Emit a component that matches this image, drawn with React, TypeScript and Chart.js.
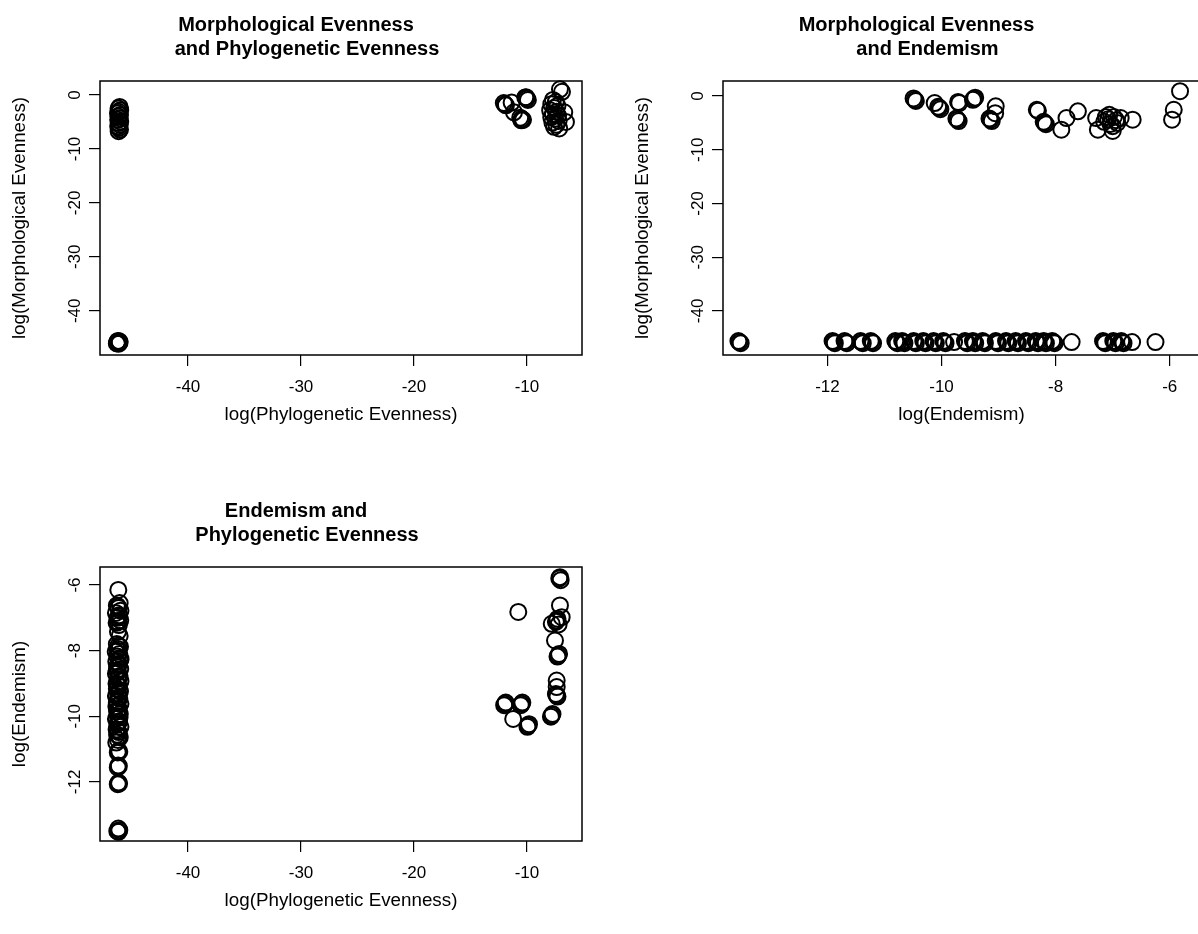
import React, { useEffect, useRef } from "react";
import { Chart, registerables } from "chart.js";

Chart.register(...registerables);

// ---------- Panel 1: log(Phylogenetic Evenness) vs log(Morphological Evenness)
const morphVsPhylo: [number, number][] = [
  // sites at the phylogenetic-evenness floor
  [-46.05, -2.2], [-46.15, -2.5], [-46.00, -2.8], [-46.12, -3.1], [-46.20, -3.4],
  [-46.02, -3.7], [-46.15, -4.0], [-46.08, -4.3], [-46.18, -4.6], [-46.00, -4.9],
  [-46.12, -5.2], [-46.05, -5.5], [-46.18, -5.8], [-46.10, -6.1], [-46.02, -6.4], [-46.14, -6.7],
  [-46.20, -45.6], [-46.05, -45.85], [-46.30, -46.05], [-46.12, -46.1], [-46.25, -45.7],
  [-46.08, -45.65], [-46.28, -45.95],
  // upper-right group
  [-11.95, -1.72], [-12.05, -1.5], [-11.86, -1.9], [-11.36, -1.4], [-11.15, -3.2],
  [-10.03, -0.68], [-10.15, -0.45], [-9.92, -0.9], [-10.08, -0.4],
  [-10.47, -4.4], [-10.60, -4.2], [-10.35, -4.6], [-10.50, -4.7],
  [-7.08, 1.06], [-6.90, 0.6], [-6.70, -3.2], [-6.55, -5.0],
  [-7.70, -0.9], [-7.45, -1.3], [-7.85, -1.7], [-7.30, -2.0], [-7.60, -2.4], [-7.95, -2.8],
  [-7.40, -3.1], [-7.70, -3.5], [-7.25, -3.8], [-7.85, -4.1], [-7.50, -4.4], [-7.20, -4.8],
  [-7.75, -5.1], [-7.40, -5.5], [-7.60, -5.9], [-7.15, -6.2],
];

// ---------- Panel 2: log(Endemism) vs log(Morphological Evenness)
const morphVsEndemism: [number, number][] = [
  [-10.47, -0.69], [-10.49, -0.45], [-10.45, -0.9], [-10.12, -1.3],
  [-10.04, -2.2], [-10.02, -2.45], [-10.06, -2.0], [-9.69, -1.3], [-9.71, -1.1],
  [-9.72, -4.41], [-9.70, -4.65], [-9.74, -4.2], [-9.43, -0.5], [-9.45, -0.7], [-9.41, -0.3],
  [-9.05, -1.92], [-9.06, -3.2], [-9.14, -4.4], [-9.12, -4.65], [-9.16, -4.2],
  [-8.33, -2.55], [-8.31, -2.75], [-8.19, -5.02], [-8.17, -5.25], [-8.21, -4.8],
  [-7.90, -6.27], [-7.81, -4.09], [-7.61, -2.85], [-7.29, -4.09], [-7.26, -6.27],
  [-7.06, -3.5], [-6.94, -4.5], [-7.00, -5.6], [-6.86, -4.1], [-7.15, -4.8], [-7.00, -6.5],
  [-6.98, -3.9], [-7.08, -4.3], [-6.92, -5.0], [-7.04, -5.2], [-7.12, -3.9],
  [-6.65, -4.41], [-5.82, 0.9], [-5.93, -2.55], [-5.96, -4.41],
  // sites at the morphological-evenness floor
  [-13.56, -45.6], [-13.54, -45.8], [-13.52, -46.0],
  [-11.91, -45.6], [-11.89, -45.8], [-11.87, -46.0],
  [-11.70, -45.6], [-11.68, -45.8], [-11.66, -46.0],
  [-11.42, -45.6], [-11.40, -45.8], [-11.38, -46.0],
  [-11.24, -45.6], [-11.22, -45.8], [-11.20, -46.0],
  [-10.81, -45.6], [-10.79, -45.8], [-10.77, -46.0],
  [-10.69, -45.6], [-10.67, -45.8], [-10.65, -46.0],
  [-10.49, -45.6], [-10.47, -45.8], [-10.45, -46.0],
  [-10.32, -45.6], [-10.30, -45.8], [-10.28, -46.0],
  [-10.14, -45.6], [-10.12, -45.8], [-10.10, -46.0],
  [-9.97, -45.6], [-9.95, -45.8], [-9.93, -46.0], [-9.78, -45.8],
  [-9.59, -45.6], [-9.57, -45.8], [-9.55, -46.0],
  [-9.45, -45.6], [-9.43, -45.8], [-9.41, -46.0],
  [-9.28, -45.6], [-9.26, -45.8], [-9.24, -46.0],
  [-9.05, -45.6], [-9.03, -45.8], [-9.01, -46.0],
  [-8.87, -45.6], [-8.85, -45.8], [-8.83, -46.0],
  [-8.70, -45.6], [-8.68, -45.8], [-8.66, -46.0],
  [-8.52, -45.6], [-8.50, -45.8], [-8.48, -46.0],
  [-8.35, -45.6], [-8.33, -45.8], [-8.31, -46.0],
  [-8.21, -45.6], [-8.19, -45.8], [-8.17, -46.0],
  [-8.06, -45.6], [-8.04, -45.8], [-8.02, -46.0], [-7.72, -45.8],
  [-7.17, -45.6], [-7.15, -45.8], [-7.13, -46.0],
  [-6.99, -45.6], [-6.97, -45.8], [-6.95, -46.0],
  [-6.85, -45.6], [-6.83, -45.8], [-6.81, -46.0], [-6.66, -45.8], [-6.25, -45.8],
];

// ---------- Panel 3: log(Phylogenetic Evenness) vs log(Endemism)
const endemismVsPhylo: [number, number][] = [
  [-46.17, -6.15],
  [-46.05, -6.55], [-46.30, -6.62], [-46.15, -6.70], [-45.98, -6.78], [-46.38, -6.85],
  [-46.10, -6.92], [-46.25, -7.00], [-46.00, -7.08], [-46.32, -7.15], [-46.12, -7.22],
  [-46.20, -6.66], [-46.08, -6.96], [-46.22, -7.12],
  [-46.20, -7.42], [-46.05, -7.55],
  [-46.30, -7.80], [-46.02, -7.88], [-46.18, -7.95], [-46.40, -8.03], [-46.08, -8.10],
  [-46.25, -8.18], [-45.97, -8.26], [-46.35, -8.33], [-46.12, -8.40], [-46.28, -8.48],
  [-46.00, -8.56], [-46.20, -8.63], [-46.38, -8.70], [-46.06, -8.78], [-46.24, -8.86],
  [-45.98, -8.93], [-46.33, -9.00], [-46.14, -9.08], [-46.30, -9.16], [-46.02, -9.24],
  [-46.20, -9.31], [-46.38, -9.38], [-46.08, -9.46], [-46.26, -9.54], [-45.98, -9.62],
  [-46.34, -9.70], [-46.12, -9.77], [-46.28, -9.85], [-46.04, -9.93], [-46.22, -10.00],
  [-46.38, -10.08], [-46.10, -10.16], [-46.26, -10.24], [-45.98, -10.32], [-46.32, -10.40],
  [-46.14, -10.48], [-46.28, -10.56], [-46.04, -10.64], [-46.20, -10.72], [-46.35, -10.80],
  [-46.15, -7.84], [-46.22, -8.00], [-46.04, -8.22], [-46.16, -8.44], [-46.30, -8.60],
  [-46.12, -8.82], [-46.22, -9.04], [-46.08, -9.20], [-46.16, -9.42], [-46.30, -9.58],
  [-46.18, -9.81], [-46.06, -10.04], [-46.18, -10.20], [-46.22, -10.44], [-46.10, -10.60],
  [-46.15, -11.05], [-46.22, -11.10], [-46.08, -11.08],
  [-46.12, -11.52], [-46.22, -11.56], [-46.18, -11.50],
  [-46.15, -12.02], [-46.22, -12.07], [-46.10, -12.05],
  [-46.17, -13.42], [-46.08, -13.47], [-46.26, -13.50], [-46.15, -13.52],
  // right-hand group
  [-7.08, -5.76], [-7.02, -5.85], [-7.14, -5.80], [-10.77, -6.82], [-7.08, -6.62],
  [-7.37, -7.08], [-7.30, -7.03], [-7.44, -7.12], [-6.93, -6.98], [-7.81, -7.18], [-7.20, -7.20],
  [-7.52, -7.69], [-7.23, -8.14], [-7.30, -8.18], [-7.16, -8.10],
  [-7.37, -8.91], [-7.37, -9.11], [-7.37, -9.36], [-7.30, -9.40], [-7.44, -9.32],
  [-7.81, -9.97], [-7.88, -10.01], [-7.74, -9.93],
  [-11.95, -9.62], [-12.02, -9.66], [-11.88, -9.58],
  [-10.48, -9.62], [-10.55, -9.66], [-10.41, -9.58],
  [-11.22, -10.08], [-9.89, -10.28], [-9.96, -10.32], [-9.82, -10.24],
];

// ---------- Tick labels
const phyloTicks = [-40, -30, -20, -10];
const morphTicks = [0, -10, -20, -30, -40];
const endemismXTicks = [-12, -10, -8, -6];
const endemismYTicks = [-6, -8, -10, -12];

const FONT = '"Liberation Sans", Arial, Helvetica, sans-serif';

type Spec = {
  left: number; top: number; w: number; h: number;
  padTop: number; padRight: number; yAxisW: number; xAxisH: number;
  points: [number, number][];
  xMin: number; xMax: number; yMin: number; yMax: number;
  xTicks: number[]; yTicks: number[];
  xTitle: string; yTitle: string;
  title: [string, string];
};

const panels: Spec[] = [
  {
    left: 0, top: 0, w: 600, h: 467, padTop: 81, padRight: 18, yAxisW: 100, xAxisH: 112,
    points: morphVsPhylo, xMin: -47.79, xMax: -5.13, yMin: -48.2, yMax: 2.6,
    xTicks: phyloTicks, yTicks: morphTicks,
    xTitle: "log(Phylogenetic Evenness)", yTitle: "log(Morphological Evenness)",
    title: ["Morphological Evenness", "and Phylogenetic Evenness"],
  },
  {
    left: 600, top: 0, w: 610, h: 467, padTop: 81, padRight: 6, yAxisW: 123, xAxisH: 112,
    points: morphVsEndemism, xMin: -13.83, xMax: -5.47, yMin: -48.2, yMax: 2.8,
    xTicks: endemismXTicks, yTicks: morphTicks,
    xTitle: "log(Endemism)", yTitle: "log(Morphological Evenness)",
    title: ["Morphological Evenness", "and Endemism"],
  },
  {
    left: 0, top: 467, w: 600, h: 467, padTop: 100, padRight: 18, yAxisW: 100, xAxisH: 93,
    points: endemismVsPhylo, xMin: -47.79, xMax: -5.13, yMin: -13.8, yMax: -5.45,
    xTicks: phyloTicks, yTicks: endemismYTicks,
    xTitle: "log(Phylogenetic Evenness)", yTitle: "log(Endemism)",
    title: ["Endemism and", "Phylogenetic Evenness"],
  },
];

function makeRPlugin(spec: Spec) {
  return {
    id: "rAxes",
    afterDraw(chart: any) {
      const ctx = chart.ctx as CanvasRenderingContext2D;
      const a = chart.chartArea;
      const xs = chart.scales.x;
      const ys = chart.scales.y;
      ctx.save();
      ctx.strokeStyle = "#000";
      ctx.lineWidth = 1.5;
      ctx.strokeRect(a.left, a.top, a.right - a.left, a.bottom - a.top);
      ctx.fillStyle = "#000";
      ctx.textAlign = "center";
      ctx.textBaseline = "middle";
      ctx.font = `17px ${FONT}`;
      xs.ticks.forEach((t: any) => {
        ctx.fillText(String(t.value), xs.getPixelForValue(t.value), a.bottom + 32);
      });
      ys.ticks.forEach((t: any) => {
        ctx.save();
        ctx.translate(a.left - 25, ys.getPixelForValue(t.value));
        ctx.rotate(-Math.PI / 2);
        ctx.fillText(String(t.value), 0, 0);
        ctx.restore();
      });
      ctx.font = `18.8px ${FONT}`;
      const cx = (a.left + a.right) / 2;
      ctx.fillText(spec.xTitle, cx, a.bottom + 60);
      ctx.save();
      ctx.translate(a.left - 80, (a.top + a.bottom) / 2);
      ctx.rotate(-Math.PI / 2);
      ctx.fillText(spec.yTitle, 0, 0);
      ctx.restore();
      ctx.font = `bold 20px ${FONT}`;
      ctx.textBaseline = "alphabetic";
      ctx.fillText(spec.title[0], cx - 45, a.top - 50);
      ctx.fillText(spec.title[1], cx - 34, a.top - 26);
      ctx.restore();
    },
  };
}

function Panel({ spec }: { spec: Spec }) {
  const ref = useRef<HTMLCanvasElement>(null);
  useEffect(() => {
    const chart = new Chart(ref.current as HTMLCanvasElement, {
      type: "scatter",
      data: {
        datasets: [
          {
            data: spec.points.map(([x, y]) => ({ x, y })),
            pointStyle: "circle",
            pointRadius: 8,
            pointHoverRadius: 8,
            borderColor: "#000",
            backgroundColor: "rgba(0,0,0,0)",
            borderWidth: 2,
            clip: false,
          } as any,
        ],
      },
      options: {
        responsive: false,
        animation: false,
        events: [],
        layout: { padding: { left: 0, top: spec.padTop, right: spec.padRight, bottom: 0 } },
        plugins: { legend: { display: false }, tooltip: { enabled: false }, title: { display: false } },
        scales: {
          x: {
            type: "linear",
            position: "bottom",
            min: spec.xMin,
            max: spec.xMax,
            afterBuildTicks: (s: any) => { s.ticks = spec.xTicks.map((v) => ({ value: v })); },
            afterFit: (s: any) => { s.height = spec.xAxisH; },
            ticks: { display: false },
            grid: { display: true, drawOnChartArea: false, drawTicks: true, tickLength: 11, color: "#000", lineWidth: 1.2 },
            border: { display: false },
          },
          y: {
            type: "linear",
            position: "left",
            min: spec.yMin,
            max: spec.yMax,
            afterBuildTicks: (s: any) => { s.ticks = spec.yTicks.map((v) => ({ value: v })); },
            afterFit: (s: any) => { s.width = spec.yAxisW; },
            ticks: { display: false },
            grid: { display: true, drawOnChartArea: false, drawTicks: true, tickLength: 11, color: "#000", lineWidth: 1.2 },
            border: { display: false },
          },
        },
      } as any,
      plugins: [makeRPlugin(spec)],
    });
    return () => chart.destroy();
  }, [spec]);
  return (
    <canvas
      ref={ref}
      width={spec.w}
      height={spec.h}
      style={{ position: "absolute", left: spec.left, top: spec.top, width: spec.w, height: spec.h }}
    />
  );
}

export default function App() {
  return (
    <div
      style={{
        position: "absolute",
        left: 0,
        top: 0,
        width: 1198,
        height: 934,
        overflow: "hidden",
        background: "#fff",
      }}
    >
      {panels.map((p, i) => (
        <Panel key={i} spec={p} />
      ))}
    </div>
  );
}
